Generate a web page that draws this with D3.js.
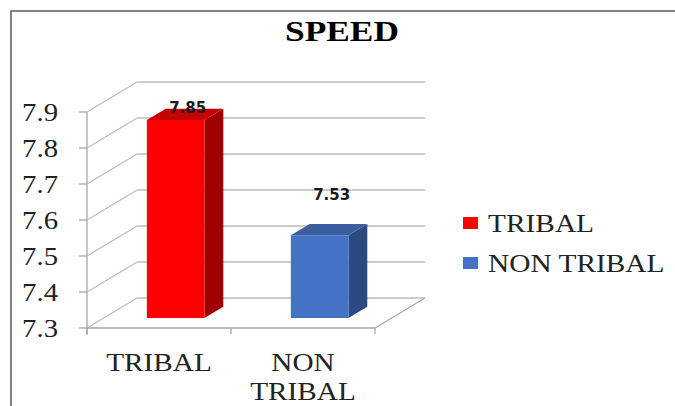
<!DOCTYPE html>
<html>
<head>
<meta charset="utf-8">
<script src="https://cdn.jsdelivr.net/npm/d3@7"></script>
<style>
  html, body { margin: 0; padding: 0; background: #ffffff; }
  svg { display: block; }
</style>
</head>
<body>
<svg id="chart" width="675" height="406"></svg>
<script>
// Chart data
const chartTitle = "SPEED";
const categories = ["TRIBAL", "NON TRIBAL"];
const values = [7.85, 7.53];
const yTicks = [7.3, 7.4, 7.5, 7.6, 7.7, 7.8, 7.9];

// Appearance
const faceColors = {
  "TRIBAL":     { front: "#FF0000", top: "#C40000", side: "#A00000" },
  "NON TRIBAL": { front: "#4472C4", top: "#3A5E9E", side: "#2C4A80" }
};
const serif = "'Liberation Serif', 'Times New Roman', serif";
const gridColor = "#BDBDBD";
const axisColor = "#A6A6A6";

const svg = d3.select("#chart");

// Plot box (front plane) and 3D depth offset
const plotLeft = 87, plotRight = 375, plotTop = 112, plotBottom = 328;
const DX = 50, DY = -30;
const z0 = 1 / 3, z1 = 0.71;   // bar depth span (fraction of floor depth)

const x = d3.scaleBand().domain(categories).range([plotLeft, plotRight])
  .paddingInner(0.6).paddingOuter(0.3);
const y = d3.scaleLinear().domain([yTicks[0], yTicks[yTicks.length - 1]]).range([plotBottom, plotTop]);

const P = (px, py, z) => [px + DX * z, py + DY * z];
const seg = (a, b) => ({ x1: a[0], y1: a[1], x2: b[0], y2: b[1] });

// Outer chart frame (left and top edges)
svg.append("path")
  .attr("d", "M11,406 L11,11 L675,11")
  .attr("fill", "none").attr("stroke", "#5a5a5a").attr("stroke-width", 1.5);

// Title
svg.append("text")
  .attr("transform", "translate(342,41) scale(1.22,1)")
  .attr("text-anchor", "middle")
  .attr("font-family", serif).attr("font-weight", "bold").attr("font-size", 29)
  .attr("fill", "#000").text(chartTitle);

const grid = svg.append("g").attr("fill", "none").attr("stroke-width", 1.3);
const drawSeg = (l, color) => grid.append("line")
  .attr("x1", l.x1).attr("y1", l.y1).attr("x2", l.x2).attr("y2", l.y2)
  .attr("stroke", color);

// Back wall gridlines and side wall diagonals
yTicks.forEach(t => {
  const yy = y(t);
  drawSeg(seg(P(plotLeft, yy, 1), P(plotRight, yy, 1)), gridColor);
  drawSeg(seg([plotLeft, yy], P(plotLeft, yy, 1)), gridColor);
});

// Floor front and right edges
drawSeg(seg([plotLeft, plotBottom], [plotRight, plotBottom]), axisColor);
drawSeg(seg([plotRight, plotBottom], P(plotRight, plotBottom, 1)), axisColor);

// Value axis: vertical line with tick marks
drawSeg(seg([plotLeft, plotTop], [plotLeft, plotBottom + 7]), axisColor);
yTicks.forEach(t => drawSeg(seg([plotLeft - 8, y(t)], [plotLeft, y(t)]), axisColor));

// Category axis tick marks at band boundaries
const step = x.step();
d3.range(categories.length + 1).forEach(i => {
  const bx = plotLeft + step * i;
  drawSeg(seg([bx, plotBottom], [bx, plotBottom + 6]), axisColor);
});

// Value tick labels
svg.append("g").selectAll("text").data(yTicks).join("text")
  .attr("transform", d => `translate(58,${y(d) + 9}) scale(1.15,1)`)
  .attr("text-anchor", "end")
  .attr("font-family", serif).attr("font-size", 25).attr("fill", "#222")
  .text(d => d3.format(".1f")(d));

// Category labels (multi-word labels wrap one word per line)
const catG = svg.append("g");
categories.forEach(c => {
  const cx = x(c) + x.bandwidth() / 2;
  c.split(" ").forEach((w, i) => catG.append("text")
    .attr("transform", `translate(${cx},${371 + i * 29}) scale(1.17,1)`)
    .attr("text-anchor", "middle")
    .attr("font-family", serif).attr("font-size", 25).attr("fill", "#222")
    .text(w));
});

// 3D bars
const bars = svg.append("g");
const poly = pts => "M" + pts.map(p => p.join(",")).join("L") + "Z";
categories.forEach((c, i) => {
  const v = values[i];
  const col = faceColors[c];
  const xl = x(c), xr = x(c) + x.bandwidth();
  const yt = y(v), yb = y(yTicks[0]);
  const fTL = P(xl, yt, z0), fTR = P(xr, yt, z0), fBR = P(xr, yb, z0), fBL = P(xl, yb, z0);
  const bTL = P(xl, yt, z1), bTR = P(xr, yt, z1), bBR = P(xr, yb, z1);
  bars.append("path").attr("d", poly([fTR, bTR, bBR, fBR])).attr("fill", col.side);
  bars.append("path").attr("d", poly([fTL, fTR, bTR, bTL])).attr("fill", col.top);
  bars.append("path").attr("d", poly([fTL, fTR, fBR, fBL])).attr("fill", col.front);

  // Value label above the bar, kept inside the plot top
  const labelY = Math.max(bTL[1] - 24, plotTop + 1);
  bars.append("text")
    .attr("x", (fTL[0] + fTR[0]) / 2 + 12).attr("y", labelY)
    .attr("text-anchor", "middle")
    .attr("font-family", "'DejaVu Sans', sans-serif").attr("font-weight", "bold")
    .attr("font-size", 15).attr("fill", "#1a1a1a")
    .text(d3.format(".2f")(v));
});

// Legend
const legend = svg.append("g");
categories.forEach((c, i) => {
  const ly = 223 + i * 40;
  legend.append("rect").attr("x", 463).attr("y", ly - 6)
    .attr("width", 15).attr("height", 12).attr("fill", faceColors[c].front);
  legend.append("text")
    .attr("transform", `translate(488,${ly + 9}) scale(1.13,1)`)
    .attr("font-family", serif).attr("font-size", 26).attr("fill", "#222")
    .text(c);
});
</script>
</body>
</html>
